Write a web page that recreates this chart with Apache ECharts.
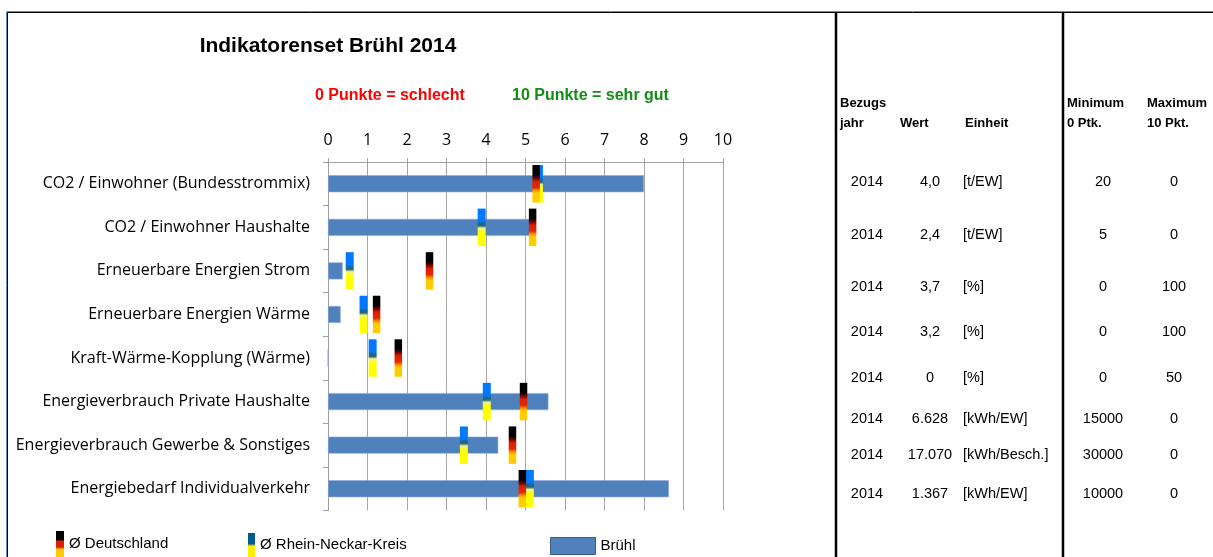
<!DOCTYPE html>
<html>
<head>
<meta charset="utf-8">
<script src="https://cdn.jsdelivr.net/npm/echarts@6/dist/echarts.min.js"></script>
<style>
  html, body { margin: 0; padding: 0; background: #fff; }
  #chart { width: 1213px; height: 557px; }
</style>
</head>
<body>
<div id="chart"></div>
<script>
// Indikatoren (von oben nach unten)
const categories = [
  'CO2 / Einwohner (Bundesstrommix)',
  'CO2 / Einwohner Haushalte',
  'Erneuerbare Energien Strom',
  'Erneuerbare Energien Wärme',
  'Kraft-Wärme-Kopplung (Wärme)',
  'Energieverbrauch Private Haushalte',
  'Energieverbrauch Gewerbe & Sonstiges',
  'Energiebedarf Individualverkehr'
]
// Punkte 0..10
const bruehl = [8.0, 5.2, 0.37, 0.32, 0, 5.58, 4.31, 8.63]
const deutschland = [5.27, 5.18, 2.57, 1.23, 1.78, 4.95, 4.67, 4.92]
const rheinNeckar = [5.34, 3.89, 0.55, 0.9, 1.13, 4.02, 3.44, 5.11]
const xTicks = [0, 1, 2, 3, 4, 5, 6, 7, 8, 9, 10]

// Tabelle rechts
const tabJahr = ['2014', '2014', '2014', '2014', '2014', '2014', '2014', '2014']
const tabWert = ['4,0', '2,4', '3,7', '3,2', '0', '6.628', '17.070', '1.367']
const tabEinheit = ['[t/EW]', '[t/EW]', '[%]', '[%]', '[%]', '[kWh/EW]', '[kWh/Besch.]', '[kWh/EW]']
const tabMin = ['20', '5', '0', '0', '0', '15000', '30000', '10000']
const tabMax = ['0', '0', '100', '100', '50', '0', '0', '0']

const rowY = [182, 235, 287, 332, 378, 419, 455, 494]

const myChart = echarts.init(document.getElementById('chart'))
const G = echarts.graphic

const deGrad = new G.LinearGradient(0, 0, 0, 1, [
  {offset: 0, color: '#000000'}, {offset: 0.26, color: '#000000'},
  {offset: 0.36, color: '#7a0800'}, {offset: 0.44, color: '#e01e00'},
  {offset: 0.6, color: '#e02a00'}, {offset: 0.68, color: '#ff9000'},
  {offset: 0.75, color: '#ffcc00'}, {offset: 1, color: '#ffcc00'}
])
const rnkGrad = new G.LinearGradient(0, 0, 0, 1, [
  {offset: 0, color: '#0078ff'}, {offset: 0.33, color: '#0078ff'},
  {offset: 0.4, color: '#1b6690'}, {offset: 0.46, color: '#2b6a6a'},
  {offset: 0.52, color: '#eef0a0'}, {offset: 0.62, color: '#ffff00'},
  {offset: 1, color: '#ffff00'}
])
const deLegend = new G.LinearGradient(0, 0, 0, 1, [
  {offset: 0, color: '#000000'}, {offset: 0.33, color: '#000000'},
  {offset: 0.4, color: '#e01e00'}, {offset: 0.62, color: '#e01e00'},
  {offset: 0.7, color: '#ffcc00'}, {offset: 1, color: '#ffcc00'}
])
const rnkLegend = new G.LinearGradient(0, 0, 0, 1, [
  {offset: 0, color: '#005a92'}, {offset: 0.45, color: '#005a92'},
  {offset: 0.55, color: '#ffee00'}, {offset: 1, color: '#ffee00'}
])

function marker(width, fill) {
  return function (params, api) {
    const p = api.coord([api.value(0), api.value(1)])
    const h = api.size([0, 1])[1] * 0.86
    return {
      type: 'rect',
      shape: {x: p[0] - width / 2, y: p[1] - h / 2, width: width, height: h},
      style: {fill: fill}
    }
  }
}

const arial = '"Liberation Sans", Arial, sans-serif'
const calib = '"Open Sans", sans-serif'

// Tabellentexte
const tableText = []
function txt(x, y, s, align, bold) {
  tableText.push({
    type: 'text', x: x, y: y,
    style: {text: s, fill: '#000', font: (bold ? 'bold 13px ' : '14.5px ') + arial,
      align: align, verticalAlign: 'middle'}
  })
}
txt(840, 103, 'Bezugs', 'left', true)
txt(840, 123, 'jahr', 'left', true)
txt(900, 123, 'Wert', 'left', true)
txt(965, 123, 'Einheit', 'left', true)
txt(1067, 103, 'Minimum', 'left', true)
txt(1067, 123, '0 Ptk.', 'left', true)
txt(1147, 103, 'Maximum', 'left', true)
txt(1147, 123, '10 Pkt.', 'left', true)
rowY.forEach((y, i) => {
  txt(867, y, tabJahr[i], 'center')
  txt(930, y, tabWert[i], 'center')
  txt(963, y, tabEinheit[i], 'left')
  txt(1103, y, tabMin[i], 'center')
  txt(1174, y, tabMax[i], 'center')
})

myChart.setOption({
  animation: false,
  title: [
    {text: 'Indikatorenset Brühl 2014', left: 328, top: 46, textAlign: 'center', textVerticalAlign: 'middle',
      padding: 0, textStyle: {fontFamily: arial, fontSize: 21, fontWeight: 'bold', color: '#000'}},
    {text: '0 Punkte = schlecht', left: 315, top: 88, padding: 0,
      textStyle: {fontFamily: arial, fontSize: 16, fontWeight: 'bold', color: '#ff0000'}},
    {text: '10 Punkte = sehr gut', left: 512, top: 88, padding: 0,
      textStyle: {fontFamily: arial, fontSize: 16, fontWeight: 'bold', color: '#138c13'}}
  ],
  grid: {left: 328, right: 490, top: 162, height: 348.5, containLabel: false},
  xAxis: {
    type: 'value', position: 'top', min: 0, max: 10, interval: 1,
    axisLine: {show: true, lineStyle: {color: '#a0a0a0'}},
    axisTick: {show: true, length: 4, lineStyle: {color: '#a0a0a0'}},
    splitLine: {show: true, lineStyle: {color: '#a6a6a6', width: 1}},
    axisLabel: {margin: 14, fontFamily: calib, fontSize: 16, color: '#000',
      formatter: v => xTicks.indexOf(v) >= 0 ? String(v) : ''}
  },
  yAxis: {
    type: 'category', inverse: true, data: categories,
    axisLine: {show: true, lineStyle: {color: '#a0a0a0'}},
    axisTick: {show: true, length: 5, lineStyle: {color: '#a0a0a0'}},
    axisLabel: {margin: 18, fontFamily: calib, fontSize: 16, color: '#000'}
  },
  legend: [
    {left: 56, top: 531, padding: 0, itemWidth: 8, itemHeight: 26, itemGap: 0,
      textStyle: {fontFamily: arial, fontSize: 15, color: '#000'},
      data: [{name: 'Ø Deutschland', icon: 'rect', itemStyle: {color: deLegend, borderWidth: 0}}]},
    {left: 248, top: 533, padding: 0, itemWidth: 7, itemHeight: 24, itemGap: 0,
      textStyle: {fontFamily: arial, fontSize: 15, color: '#000'},
      data: [{name: 'Ø Rhein-Neckar-Kreis', icon: 'rect', itemStyle: {color: rnkLegend, borderWidth: 0}}]},
    {left: 550, top: 537, padding: 0, itemWidth: 45, itemHeight: 17, itemGap: 0,
      textStyle: {fontFamily: arial, fontSize: 15, color: '#000'},
      data: [{name: 'Brühl', icon: 'rect', itemStyle: {color: '#4f81bd', borderColor: '#385d8a', borderWidth: 1}}]}
  ],
  series: [
    {
      name: 'Brühl', type: 'bar', data: bruehl, barWidth: 17,
      itemStyle: {color: '#4f81bd', borderColor: '#8eaadb', borderWidth: 0.6}
    },
    {
      name: 'Ø Rhein-Neckar-Kreis', type: 'custom',
      data: rheinNeckar.map((v, i) => [v, i]),
      renderItem: marker(8, rnkGrad), itemStyle: {color: '#0078ff'}, z: 3
    },
    {
      name: 'Ø Deutschland', type: 'custom',
      data: deutschland.map((v, i) => [v, i]),
      renderItem: marker(7.5, deGrad), itemStyle: {color: '#000'}, z: 4
    }
  ],
  graphic: [
    {type: 'rect', shape: {x: 6.5, y: 11.5, width: 1300, height: 700}, style: {fill: null, stroke: '#5b8fd0', lineWidth: 1}, z: 10},
    {type: 'rect', shape: {x: 7.5, y: 12.5, width: 1300, height: 700}, style: {fill: null, stroke: '#000', lineWidth: 1}, z: 10},
    {type: 'line', shape: {x1: 836, y1: 13, x2: 836, y2: 557}, style: {stroke: '#000', lineWidth: 2.5}, z: 10},
    {type: 'line', shape: {x1: 1063, y1: 13, x2: 1063, y2: 557}, style: {stroke: '#000', lineWidth: 2.5}, z: 10}
  ].concat(tableText)
})
</script>
</body>
</html>
